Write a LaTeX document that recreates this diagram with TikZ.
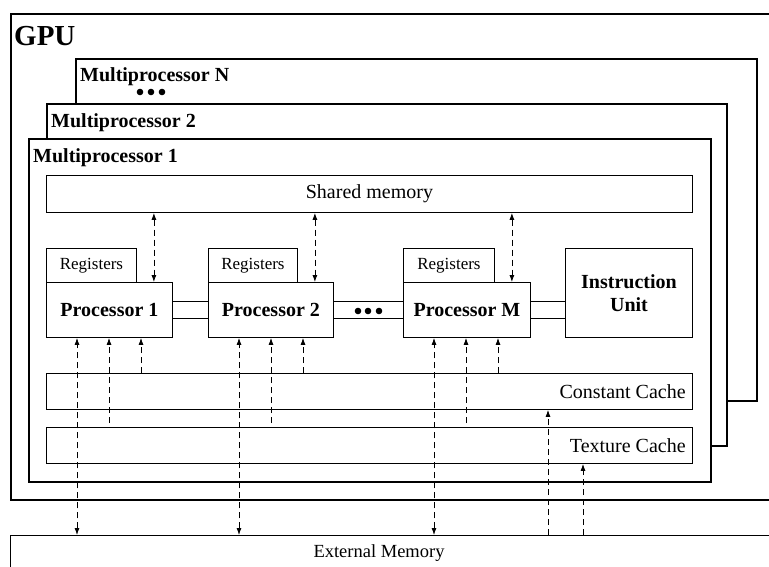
\documentclass[tikz,border=0pt]{standalone}
\usepackage{fontspec}
\setmainfont{Liberation Serif}
\usetikzlibrary{arrows.meta,calc}
\tikzset{
  frame/.style={draw, line width=1.5pt, fill=white, inner sep=0pt, anchor=north west},
  box/.style={draw, line width=0.9pt, fill=white, inner sep=0pt, anchor=north west},
  boldtxt/.style={font=\fontsize{20}{23}\selectfont\bfseries, align=center},
  regtxt/.style={font=\fontsize{17}{20}\selectfont},
  memtxt/.style={font=\fontsize{20}{23}\selectfont, inner sep=0pt},
  mplbl/.style={font=\fontsize{20}{23}\selectfont\bfseries, inner sep=0pt, anchor=base west},
  da/.style={line width=0.8pt, dash pattern=on 6pt off 4pt},
  ln/.style={line width=0.8pt},
  >={Latex[length=7pt,width=5pt]}
}
\begin{document}
\begin{tikzpicture}[x=1pt,y=-1pt]
\clip (0,0) rectangle (769,566);
% GPU frame
\node[frame, minimum width=770, minimum height=486] (gpu) at (10,13) {};
\node[font=\fontsize{29}{32}\selectfont\bfseries, inner sep=0pt, anchor=base west] (gputxt) at (14,45) {GPU};
% multiprocessors
\node[frame, minimum width=681, minimum height=342] (mpn) at (75,58) {};
\node[mplbl] (mpntxt) at (80,81) {Multiprocessor N};
\foreach \x in {140,151,162} \fill (\x,92) circle (3.3);
\node[frame, minimum width=680, minimum height=342] (mp2) at (46,103) {};
\node[mplbl] (mp2txt) at (51,127) {Multiprocessor 2};
\node[frame, minimum width=682, minimum height=343] (mp1) at (28,138) {};
\node[mplbl] (mp1txt) at (33,162) {Multiprocessor 1};
% shared memory
\node[box, minimum width=646, minimum height=37, memtxt] (sm) at (46,175) {Shared memory};
% registers and processors
\node[box, minimum width=90, minimum height=34, regtxt] (r1) at (46,248) {Registers};
\node[box, minimum width=126, minimum height=55, boldtxt] (p1) at (46,282) {Processor 1};
\node[box, minimum width=89, minimum height=34, regtxt] (r2) at (208,248) {Registers};
\node[box, minimum width=125, minimum height=55, boldtxt] (p2) at (208,282) {Processor 2};
\node[box, minimum width=91, minimum height=34, regtxt] (rm) at (403,248) {Registers};
\node[box, minimum width=127, minimum height=55, boldtxt] (pm) at (403,282) {Processor M};
\node[box, minimum width=127, minimum height=89, boldtxt] (iu) at (565,248) {Instruction\\Unit};
% links between processors
\foreach \a/\b in {p1/p2, p2/pm, pm/iu}{
  \path (\a.east) ++(0,-8.5) coordinate (\a-u1);
  \path (\a.east) ++(0,8.5) coordinate (\a-u2);
  \draw[ln] (\a-u1) -- (\a-u1 -| \b.west);
  \draw[ln] (\a-u2) -- (\a-u2 -| \b.west);
}
\foreach \x in {358,368,379} \fill (\x,311) circle (3.3);
% caches
\node[box, minimum width=646, minimum height=36] (cc) at (46,373) {};
\node[memtxt, anchor=east] (cctxt) at ([xshift=-7]cc.east) {Constant Cache};
\node[box, minimum width=646, minimum height=36] (tc) at (46,427) {};
\node[memtxt, anchor=east] (tctxt) at ([xshift=-7]tc.east) {Texture Cache};
% external memory
\node[box, minimum width=780, minimum height=80] (em) at (10,535) {};
\node[font=\fontsize{18.5}{21}\selectfont, inner sep=0pt] (emtxt) at (379,553) {External Memory};
% dashed arrows
\foreach \p in {p1,p2,pm}{
  \coordinate (\p-s) at ($(\p.north east)+(-19,0)$);
  \coordinate (\p-a) at ($(\p.south west)+(31,0)$);
  \coordinate (\p-b) at ($(\p.south west)+(63,0)$);
  \coordinate (\p-c) at ($(\p.south west)+(95,0)$);
  \draw[da,<->] (\p-s |- sm.south) -- (\p-s);
  \draw[da,<->] (\p-a |- em.north) -- (\p-a);
  \draw[da,->,shorten <=4pt] (\p-b |- tc.north) -- (\p-b);
  \draw[da,->] (\p-c |- cc.north) -- (\p-c);
}
\coordinate (x1) at ($(cc.south west)+(502,0)$);
\coordinate (x2) at ($(tc.south west)+(537,0)$);
\draw[da,->] (x1 |- em.north) -- (x1);
\draw[da,->] (x2 |- em.north) -- (x2);
\end{tikzpicture}
\end{document}
